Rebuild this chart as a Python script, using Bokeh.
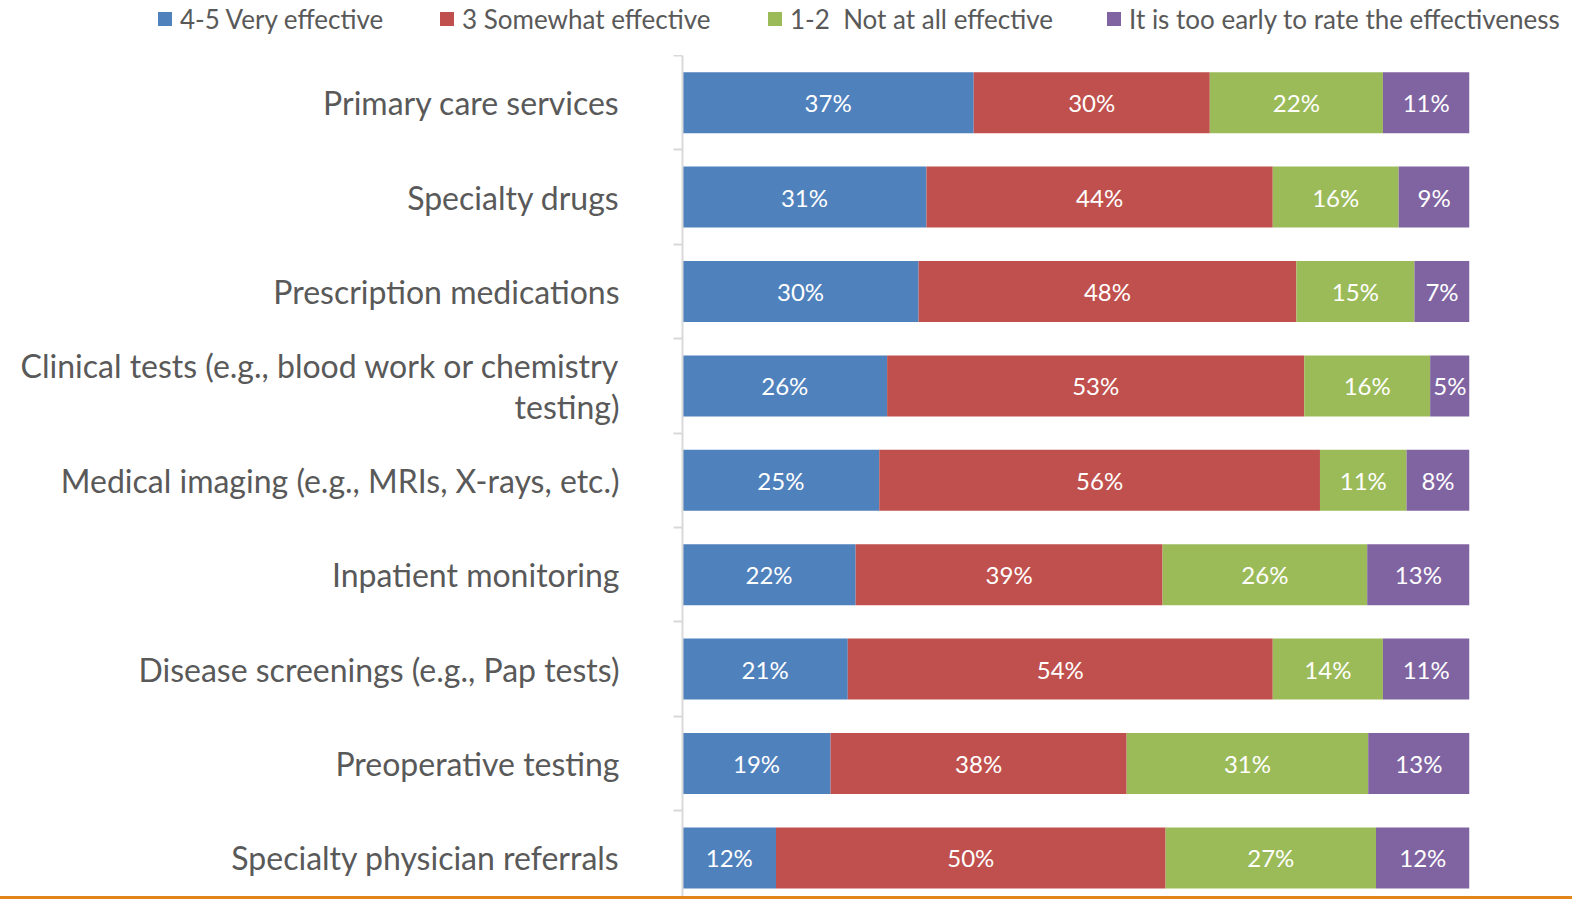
from bokeh.plotting import figure
from bokeh.models import ColumnDataSource, Range1d, FixedTicker, Div
from bokeh.layouts import column
from bokeh.core.properties import value
from bokeh.embed import file_html
from bokeh.resources import INLINE

categories = [
    "Primary care services",
    "Specialty drugs",
    "Prescription medications",
    "Clinical tests (e.g., blood work or chemistry\ntesting)",
    "Medical imaging (e.g., MRIs, X-rays, etc.)",
    "Inpatient monitoring",
    "Disease screenings (e.g., Pap tests)",
    "Preoperative testing",
    "Specialty physician referrals",
]
very_effective = [37, 31, 30, 26, 25, 22, 21, 19, 12]
somewhat_effective = [30, 44, 48, 53, 56, 39, 54, 38, 50]
not_effective = [22, 16, 15, 16, 11, 26, 14, 31, 27]
too_early = [11, 9, 7, 5, 8, 13, 11, 13, 12]

series_names = ["4-5 Very effective", "3 Somewhat effective",
                "1-2  Not at all effective", "It is too early to rate the effectiveness"]
series_keys = ["very", "somewhat", "notat", "early"]
colors = ["#4F81BD", "#C0504D", "#9BBB59", "#8064A2"]

FONT = "Lato"
TEXT_GRAY = "#595959"

series = [very_effective, somewhat_effective, not_effective, too_early]
n = len(categories)
ys = list(range(n))
totals = [sum(s[i] for s in series) for i in range(n)]
data = {"y": ys}
for k, s in zip(series_keys, series):
    data[k] = [s[i] / totals[i] for i in range(n)]
source = ColumnDataSource(data)

# pixel layout
W = 1572
LEG_H = 55
H = 896 - LEG_H
frame_left, frame_right = 682, 103
row_px = 94.4
y_bottom = -0.5 + H / row_px

# ---- legend strip (HTML) ----
legend_left = [158, 440, 768, 1107]
spans = []
for name, c, lx0 in zip(series_names, colors, legend_left):
    spans.append(
        f'<div style="position:absolute;left:{lx0}px;top:6px;height:26px;'
        f'display:flex;align-items:center;white-space:pre;">'
        f'<span style="display:inline-block;width:14px;height:14px;'
        f'background:{c};margin-right:8px;"></span>'
        f'<span style="line-height:26px;">{name}</span></div>'
    )
legend_html = (
    f'<div style="position:relative;width:{W}px;height:{LEG_H}px;'
    f'font-family:{FONT};font-size:26px;color:{TEXT_GRAY};">'
    + "".join(spans) + "</div>"
)
legend_div = Div(text=legend_html, width=W, height=LEG_H, margin=0)

# ---- main chart ----
p = figure(width=W, height=H, output_backend="svg", toolbar_location=None,
           x_range=Range1d(0, 1), y_range=Range1d(y_bottom, -0.5),
           min_border_left=frame_left, min_border_right=frame_right,
           min_border_top=0, min_border_bottom=0,
           x_axis_location=None)
p.outline_line_color = None
p.grid.visible = False
p.background_fill_color = "white"
p.border_fill_color = "white"

p.hbar_stack(series_keys, y="y", height=0.646, color=colors,
             line_color=None, source=source)

# segment labels
lx, ly, lt = [], [], []
for i in range(n):
    left = 0.0
    for k, s in zip(series_keys, series):
        w = data[k][i]
        lx.append(left + w / 2)
        ly.append(i)
        lt.append(f"{s[i]}%")
        left += w
p.text(x=lx, y=ly, text=lt, text_align="center", text_baseline="middle",
       text_color="white", text_font=value(FONT), text_font_size="24px")

ax = p.yaxis[0]
ax.ticker = FixedTicker(ticks=ys, minor_ticks=[i - 0.5 for i in range(n + 1)])
ax.major_label_overrides = {i: c for i, c in enumerate(categories)}
ax.major_label_text_font = FONT
ax.major_label_text_font_size = "32px"
ax.major_label_text_line_height = 1.05
ax.major_label_text_color = TEXT_GRAY
ax.major_label_standoff = 54
ax.major_tick_out = 0
ax.major_tick_in = 0
ax.major_tick_line_color = None
ax.minor_tick_out = 9
ax.minor_tick_in = 0
ax.minor_tick_line_color = "#D9D9D9"
ax.minor_tick_line_width = 2
ax.axis_line_color = "#D9D9D9"
ax.axis_line_width = 2

line = Div(text="", width=W, height=3, margin=0,
           styles={"background-color": "#E2861C"})
layout = column(legend_div, p, line, spacing=0)

open("out.html", "w").write(file_html(layout, INLINE))
